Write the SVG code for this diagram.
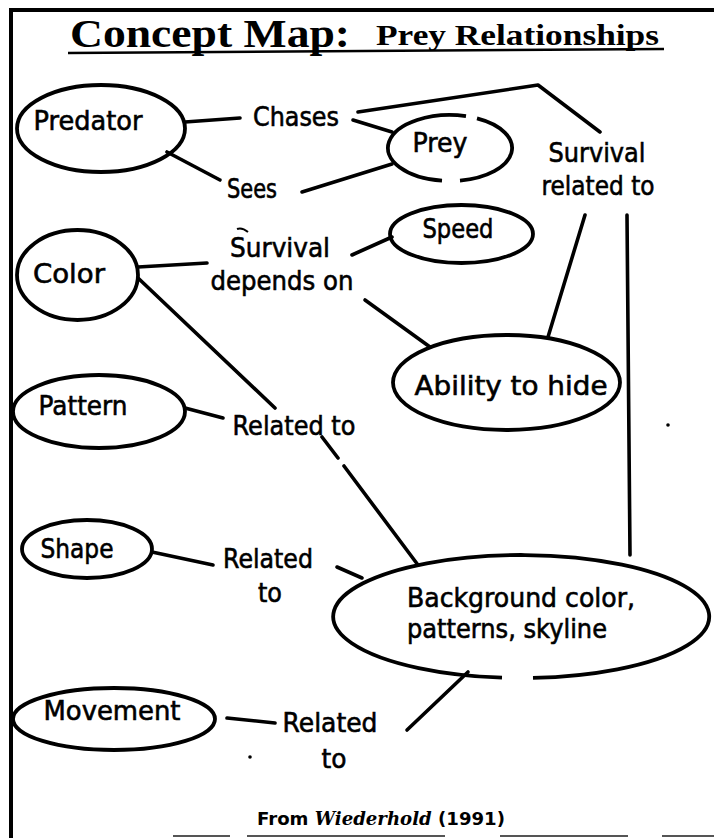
<svg xmlns="http://www.w3.org/2000/svg" width="714" height="838" viewBox="0 0 714 838">
<style>
.bg{fill:#fff}
.frame{stroke:#000;stroke-width:4;fill:none}
.dash{stroke:#555;stroke-width:2;fill:none}
.node{fill:none;stroke:#000;stroke-width:3.8}
.edge{fill:none;stroke:#000;stroke-width:3.6;stroke-linecap:round;stroke-linejoin:round}
.lbl{font-family:"DejaVu Sans","Liberation Sans",sans-serif;font-size:26px;fill:#000;stroke:#000;stroke-width:0.6}
.title{font-family:"Liberation Serif","DejaVu Serif",serif;font-weight:bold;fill:#000}
.foot{font-family:"DejaVu Sans","Liberation Sans",sans-serif;font-size:18px;font-weight:bold;fill:#000}
</style>
<rect class="bg" x="0" y="0" width="714" height="838"/>
<g id="frame">
<path class="frame" d="M11 838 L11 10 L714 10"/>
<path class="dash" d="M173 836 H230 M247 836 H445 M500 836 H628 M662 836 H714"/>
</g>
<g id="title">
<text class="title" x="70" y="47" font-size="39" textLength="280" lengthAdjust="spacingAndGlyphs">Concept Map:</text>
<text class="title" x="376" y="45" font-size="30" textLength="283" lengthAdjust="spacingAndGlyphs">Prey Relationships</text>
<path d="M68 53 L664 49" stroke="#000" stroke-width="2.6"/>
</g>
<g id="connectors">
<path class="edge" d="M185 122 L240 118"/>
<path class="edge" d="M167 152 L220 180"/>
<path class="edge" d="M302 192 L392 164"/>
<path class="edge" d="M353 120 L392 132"/>
<path class="edge" d="M358 112 L538 85 L600 132"/>
<path class="edge" d="M585 215 L548 337"/>
<path class="edge" d="M627 215 L630 555"/>
<path class="edge" d="M352 255 L392 237"/>
<path class="edge" d="M365 300 L430 347"/>
<path class="edge" d="M138 267 L207 263"/>
<path class="edge" d="M138 278 L275 408"/>
<path class="edge" d="M322 437 L338 458 M344 466 L418 565"/>
<path class="edge" d="M185 408 L223 418"/>
<path class="edge" d="M152 552 L213 565"/>
<path class="edge" d="M337 567 L362 578"/>
<path class="edge" d="M227 718 L275 723"/>
<path class="edge" d="M407 730 L468 672"/>
<path d="M237 229 Q242 227 248 232" stroke="#000" stroke-width="2" fill="none"/>
<circle cx="250" cy="757" r="1.8" fill="#000"/>
<circle cx="668" cy="425" r="1.8" fill="#000"/>
</g>
<g id="predator">
<ellipse class="node" cx="101" cy="128.5" rx="84" ry="43.5"/>
<text class="lbl" x="88" y="130" text-anchor="middle" textLength="109" lengthAdjust="spacingAndGlyphs">Predator</text>
</g>
<g id="chases"><text class="lbl" x="296" y="126" text-anchor="middle" textLength="86" lengthAdjust="spacingAndGlyphs">Chases</text></g>
<g id="sees"><text class="lbl" x="252" y="198" text-anchor="middle" textLength="50" lengthAdjust="spacingAndGlyphs">Sees</text></g>
<g id="prey">
<path class="node" d="M477 118.3 A62 33 0 0 1 460 180.6"/>
<path class="node" d="M442 180.7 A62 33 0 1 1 466 116.1"/>
<text class="lbl" x="440" y="152" text-anchor="middle" textLength="55" lengthAdjust="spacingAndGlyphs">Prey</text>
</g>
<g id="survival-related">
<text class="lbl" x="597" y="162" text-anchor="middle" textLength="97" lengthAdjust="spacingAndGlyphs">Survival</text>
<text class="lbl" x="598" y="195" text-anchor="middle" textLength="113" lengthAdjust="spacingAndGlyphs">related to</text>
</g>
<g id="speed">
<ellipse class="node" cx="461.5" cy="234" rx="71.5" ry="29"/>
<text class="lbl" x="458" y="238" text-anchor="middle" textLength="71" lengthAdjust="spacingAndGlyphs">Speed</text>
</g>
<g id="survival-depends">
<text class="lbl" x="280" y="257" text-anchor="middle" textLength="100" lengthAdjust="spacingAndGlyphs">Survival</text>
<text class="lbl" x="282" y="290" text-anchor="middle" textLength="143" lengthAdjust="spacingAndGlyphs">depends on</text>
</g>
<g id="color">
<ellipse class="node" cx="77.5" cy="275" rx="60.5" ry="45"/>
<text class="lbl" x="69" y="283" text-anchor="middle" textLength="72" lengthAdjust="spacingAndGlyphs">Color</text>
</g>
<g id="ability">
<ellipse class="node" cx="506.5" cy="382.5" rx="113.5" ry="47.5"/>
<text class="lbl" x="511" y="395" text-anchor="middle" textLength="193" lengthAdjust="spacingAndGlyphs">Ability to hide</text>
</g>
<g id="pattern">
<ellipse class="node" cx="99" cy="411.5" rx="86" ry="36.5"/>
<text class="lbl" x="83" y="415" text-anchor="middle" textLength="89" lengthAdjust="spacingAndGlyphs">Pattern</text>
</g>
<g id="related1"><text class="lbl" x="294" y="435" text-anchor="middle" textLength="123" lengthAdjust="spacingAndGlyphs">Related to</text></g>
<g id="shape">
<ellipse class="node" cx="87" cy="549" rx="65" ry="29"/>
<text class="lbl" x="77" y="558" text-anchor="middle" textLength="73" lengthAdjust="spacingAndGlyphs">Shape</text>
</g>
<g id="related2">
<text class="lbl" x="268" y="568" text-anchor="middle" textLength="90" lengthAdjust="spacingAndGlyphs">Related</text>
<text class="lbl" x="270" y="602" text-anchor="middle" textLength="24" lengthAdjust="spacingAndGlyphs">to</text>
</g>
<g id="background">
<path class="node" d="M533 677.9 A188 61.5 0 1 0 502 677.7"/>
<text class="lbl" x="407" y="607" textLength="228" lengthAdjust="spacingAndGlyphs">Background color,</text>
<text class="lbl" x="407" y="638" textLength="200" lengthAdjust="spacingAndGlyphs">patterns, skyline</text>
</g>
<g id="movement">
<ellipse class="node" cx="114" cy="719" rx="101" ry="31"/>
<text class="lbl" x="112" y="720" text-anchor="middle" textLength="137" lengthAdjust="spacingAndGlyphs">Movement</text>
</g>
<g id="related3">
<text class="lbl" x="330" y="732" text-anchor="middle" textLength="95" lengthAdjust="spacingAndGlyphs">Related</text>
<text class="lbl" x="334" y="768" text-anchor="middle" textLength="25" lengthAdjust="spacingAndGlyphs">to</text>
</g>
<g id="source">
<text class="foot" x="257" y="825" textLength="248" lengthAdjust="spacingAndGlyphs">From <tspan font-style="italic" font-family="'DejaVu Serif','Liberation Serif',serif">Wiederhold</tspan> (1991)</text>
</g>
</svg>
